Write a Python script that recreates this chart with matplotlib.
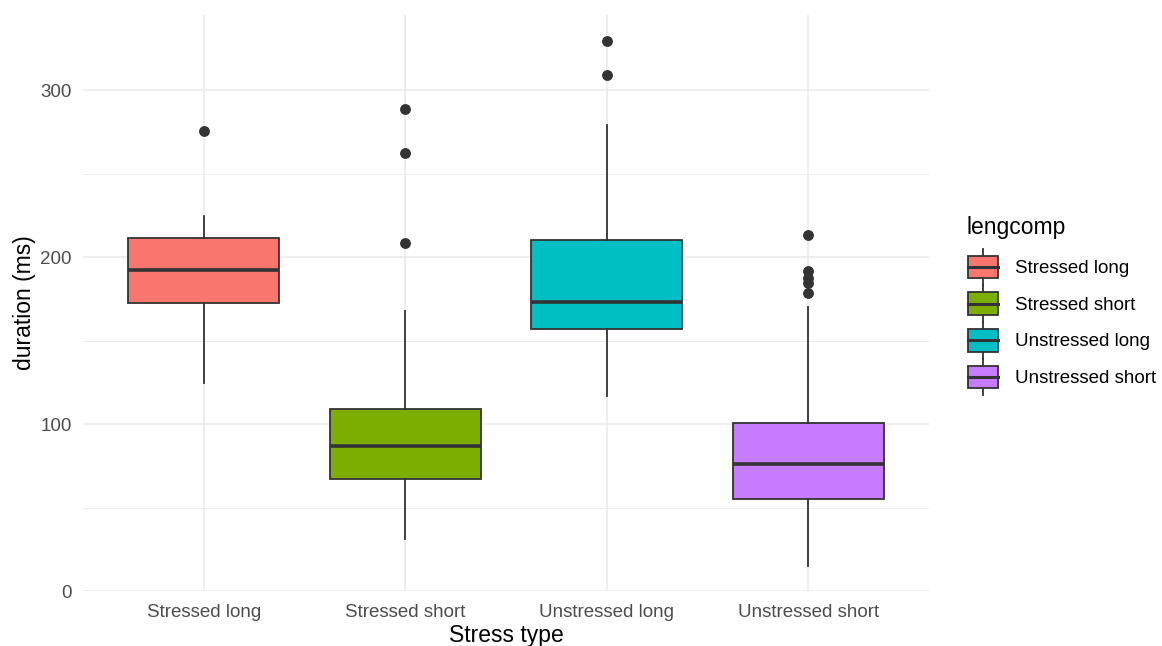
import matplotlib
matplotlib.use("Agg")
import matplotlib.pyplot as plt
from matplotlib.patches import Rectangle, Patch
from matplotlib.lines import Line2D
from matplotlib.legend_handler import HandlerBase

plt.rcParams["font.family"] = ["Liberation Sans", "DejaVu Sans"]

# values
categories = ["Stressed long", "Stressed short", "Unstressed long", "Unstressed short"]
q1 = [172.6, 67.2, 157.1, 55.1]
medians = [192.2, 86.8, 173.2, 76.2]
q3 = [211.6, 109.2, 210.0, 100.8]
whisker_low = [124.6, 31.0, 116.8, 15.2]
whisker_high = [224.7, 167.7, 279.0, 169.9]
outliers = [
    [275.3],
    [288.4, 262.1, 208.2],
    [329.3, 309.0],
    [213.4, 191.8, 187.3, 184.3, 178.3],
]
colors = ["#F8766D", "#7CAE00", "#00BFC4", "#C77CFF"]
y_ticks = [0, 100, 200, 300]
y_minor = [50, 150, 250]

EDGE = "#333333"


class BoxKeyHandler(HandlerBase):
    """Draw a small ggplot-style boxplot glyph as a legend key."""

    def create_artists(self, legend, orig_handle, xdescent, ydescent,
                       width, height, fontsize, trans):
        x0, y0 = -xdescent, -ydescent
        cx = x0 + width / 2
        box = Rectangle((x0, y0 + height * 0.08), width, height * 0.84,
                        facecolor=orig_handle.get_facecolor(),
                        edgecolor=EDGE, lw=1.3, transform=trans)
        med = Line2D([x0, x0 + width], [y0 + height / 2] * 2,
                     color=EDGE, lw=2.2, transform=trans)
        wlo = Line2D([cx, cx], [y0 - height * 0.18, y0 + height * 0.08],
                     color=EDGE, lw=1.3, transform=trans)
        whi = Line2D([cx, cx], [y0 + height * 0.92, y0 + height * 1.18],
                     color=EDGE, lw=1.3, transform=trans)
        return [wlo, whi, box, med]


fig = plt.figure(figsize=(11.62, 6.46), dpi=100)
ax = fig.add_axes([83 / 1162, 55 / 646, (929 - 83) / 1162, (631 - 55) / 646])

stats = []
for i, cat in enumerate(categories):
    stats.append({
        "label": cat,
        "q1": q1[i], "med": medians[i], "q3": q3[i],
        "whislo": whisker_low[i], "whishi": whisker_high[i],
        "fliers": outliers[i],
    })

positions = list(range(1, len(categories) + 1))
bp = ax.bxp(
    stats, positions=positions, widths=0.75, patch_artist=True,
    showcaps=False,
    boxprops=dict(edgecolor=EDGE, linewidth=1.3),
    medianprops=dict(color=EDGE, linewidth=2.6, solid_capstyle="butt"),
    whiskerprops=dict(color=EDGE, linewidth=1.3),
    flierprops=dict(marker="o", markerfacecolor=EDGE, markeredgecolor=EDGE,
                    markersize=6.8),
)
for patch, c in zip(bp["boxes"], colors):
    patch.set_facecolor(c)
    patch.set_zorder(3)
for ln in bp["medians"] + bp["whiskers"] + bp["fliers"]:
    ln.set_zorder(4)

ax.set_xlim(0.4, 4.6)
ax.set_ylim(0, 345)
ax.set_yticks(y_ticks)
ax.set_yticks(y_minor, minor=True)
ax.set_xticks(positions)
ax.set_xticklabels(categories)

ax.grid(which="major", color="#EBEBEB", linewidth=1.2)
ax.grid(which="minor", axis="y", color="#EBEBEB", linewidth=0.7)
ax.set_axisbelow(True)
for sp in ax.spines.values():
    sp.set_visible(False)
ax.tick_params(which="both", length=0)
ax.tick_params(axis="y", labelsize=13.5, labelcolor="#4D4D4D", pad=8)
ax.tick_params(axis="x", labelsize=13.5, labelcolor="#4D4D4D", pad=9.5)

ax.set_xlabel("Stress type", fontsize=16.5, labelpad=2)
ax.set_ylabel("duration (ms)", fontsize=16.5, labelpad=3)

# legend: title placed on its own, entries centred below it
fig.text(966 / 1162, 1 - 227 / 646, "lengcomp", fontsize=16.5,
         ha="left", va="center")
handles = [Patch(facecolor=c, edgecolor=EDGE) for c in colors]
leg = fig.legend(
    handles, categories,
    handler_map={Patch: BoxKeyHandler()},
    loc="center left", bbox_to_anchor=(959 / 1162, 1 - 322 / 646),
    frameon=False, fontsize=13.5,
    handlelength=1.6, handleheight=1.82, handletextpad=0.9,
    labelspacing=0.53, borderpad=0,
)

fig.savefig("out.png", dpi=100)
